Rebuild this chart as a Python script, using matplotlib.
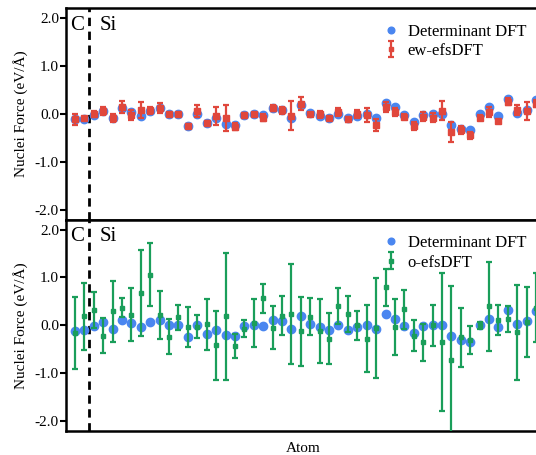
import numpy as np
import matplotlib
matplotlib.use("Agg")
import matplotlib.pyplot as plt

plt.rcParams['font.family'] = ['Liberation Serif', 'DejaVu Serif']

# Determinant DFT forces (same in both panels)
detDFT = [-0.11, -0.10, -0.01, 0.06, -0.07, 0.12, 0.04, -0.03, 0.07, 0.12,
          0.00, 0.01, -0.25, 0.00, -0.18, -0.09, -0.20, -0.23, -0.02, 0.01,
          -0.02, 0.12, 0.08, -0.07, 0.19, 0.03, -0.04, -0.09, 0.01, -0.09,
          -0.04, 0.01, -0.08, 0.24, 0.14, -0.01, -0.17, -0.01, 0.00, 0.01,
          -0.22, -0.30, -0.34, 0.01, 0.14, -0.04, 0.32, 0.03, 0.09, 0.30]

# ew-efsDFT mean and error
ewMean = [-0.11, -0.09, 0.01, 0.07, -0.08, 0.15, -0.02, 0.08, 0.08, 0.13,
          0.00, 0.00, -0.24, 0.06, -0.18, -0.04, -0.08, -0.26, -0.02, 0.01,
          -0.07, 0.13, 0.08, -0.03, 0.22, 0.01, 0.00, -0.09, 0.05, -0.11,
          0.00, -0.02, -0.23, 0.15, 0.05, -0.05, -0.25, -0.05, -0.07, 0.07,
          -0.37, -0.33, -0.44, -0.07, 0.05, -0.15, 0.26, 0.08, 0.07, 0.22]
ewErr = [0.11, 0.04, 0.06, 0.08, 0.08, 0.12, 0.10, 0.17, 0.07, 0.10,
         0.02, 0.02, 0.03, 0.12, 0.04, 0.18, 0.28, 0.08, 0.05, 0.02,
         0.08, 0.06, 0.07, 0.30, 0.13, 0.02, 0.07, 0.02, 0.08, 0.05,
         0.08, 0.15, 0.12, 0.10, 0.08, 0.05, 0.09, 0.09, 0.09, 0.20,
         0.20, 0.09, 0.07, 0.05, 0.10, 0.03, 0.07, 0.10, 0.19, 0.07]

# o-efsDFT mean and error
oMean = [-0.16, 0.19, 0.32, -0.22, 0.29, 0.37, 0.22, 0.67, 1.06, 0.22,
         -0.24, 0.17, -0.03, -0.03, 0.02, -0.42, 0.19, -0.44, -0.07, 0.05,
         0.56, -0.05, 0.20, 0.23, -0.13, 0.18, -0.12, -0.28, 0.40, 0.24,
         0.00, -0.28, -0.06, 0.79, -0.04, 0.33, -0.22, -0.36, 0.00, -0.35,
         -0.73, -0.25, -0.31, 0.00, 0.40, 0.11, 0.13, -0.15, 0.07, 0.37]
oErr = [0.75, 0.70, 0.385, 0.37, 0.64, 0.19, 0.55, 0.90, 0.65, 0.50,
        0.37, 0.26, 0.42, 0.24, 0.53, 0.72, 1.33, 0.25, 0.18, 0.50,
        0.31, 0.45, 0.41, 1.04, 0.73, 0.39, 0.67, 0.53, 0.38, 0.375,
        0.30, 0.70, 1.05, 0.38, 0.58, 0.41, 0.32, 0.39, 0.43, 1.44,
        1.56, 0.62, 0.30, 0.07, 0.93, 0.31, 0.28, 1.00, 0.74, 0.73]

yTicks = [2.0, 1.0, 0.0, -1.0, -2.0]
yTickLabels = ["2.0", "1.0", "0.0", "-1.0", "-2.0"]
boundary = 1.5

blue = "#4a86f0"
red = "#e0473c"
green = "#1a9e5a"

atoms = np.arange(len(detDFT))

fig = plt.figure(figsize=(5.36, 4.55), dpi=100)
axTop = fig.add_axes([0.123, 0.5165, 0.886, 0.4653])
axBot = fig.add_axes([0.123, 0.0538, 0.886, 0.4627])

panels = [(axTop, ewMean, ewErr, red, "ew-efsDFT", 4),
          (axBot, oMean, oErr, green, "o-efsDFT", 3)]

for ax, mean, err, color, name, ms in panels:
    ax.plot(atoms, detDFT, 'o', color=blue, markersize=6, label="Determinant DFT", zorder=2)
    ax.errorbar(atoms, mean, yerr=err, fmt='s', color=color, markersize=ms,
                elinewidth=1.6, capsize=2.5, capthick=1.6, label=name, zorder=3)
    ax.axvline(boundary, color='black', linestyle=(0, (3, 2)), linewidth=2, zorder=1)
    ax.set_xlim(-0.96, 49.5)
    ax.set_ylim(-2.2, 2.2)
    ax.set_xticks([])
    ax.set_yticks(yTicks)
    ax.set_yticklabels(yTickLabels, fontsize=11)
    ax.tick_params(axis='y', direction='out', length=4, width=1.5, pad=1)
    for spine in ax.spines.values():
        spine.set_linewidth(1.8)
    ax.set_ylabel("Nuclei Force (eV/Å)", fontsize=11, labelpad=5)
    ax.text(0.008, 0.965, "C", transform=ax.transAxes, fontsize=15, va='top', ha='left')
    ax.text(0.072, 0.965, "Si", transform=ax.transAxes, fontsize=15, va='top', ha='left')
    ax.legend(loc='upper right', bbox_to_anchor=(0.99, 0.975), frameon=False,
              fontsize=12, handlelength=0.8, handletextpad=0.6, markerscale=0.8,
              borderaxespad=0.2, labelspacing=0.2)

axBot.set_xlabel("Atom", fontsize=11, labelpad=8)

fig.savefig("out.png", dpi=100)
